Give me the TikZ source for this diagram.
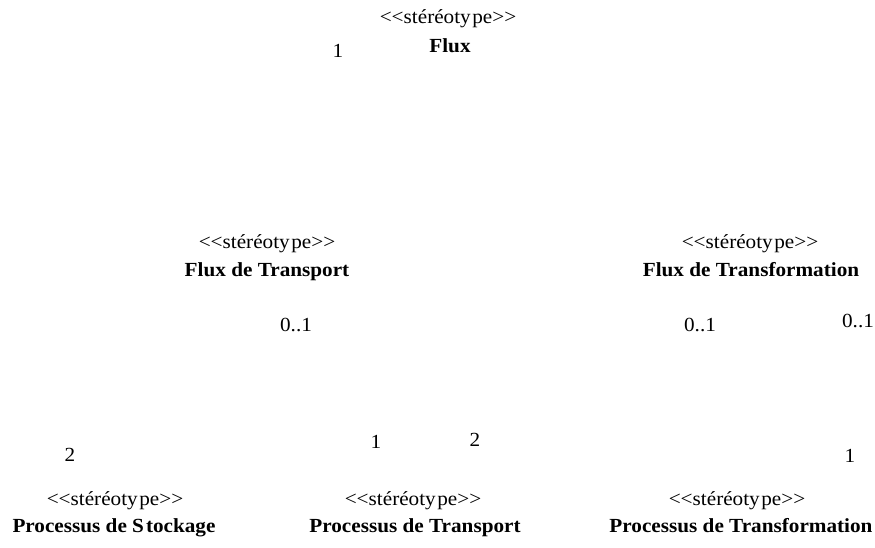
\documentclass[tikz,border=0pt]{standalone}
\usepackage{fontspec}
\setmainfont[FakeStretch=1.06]{Liberation Serif}
\begin{document}
\begin{tikzpicture}[x=1pt,y=-1pt,
  lbl/.style={inner sep=0pt,anchor=base,font=\fontsize{20}{24}\selectfont},
  clsname/.style={inner sep=0pt,anchor=base,font=\fontsize{20}{24}\selectfont\bfseries},
  mult/.style={inner sep=0pt,anchor=base,font=\fontsize{20}{24}\selectfont}]
\useasboundingbox (0,0) rectangle (875,547);
\newcommand{\stereo}{<\kern0pt<st\'er\'eoty\kern1.5pt pe>\kern0pt>}
% Flux
\node[lbl]  (s0) at (448,23) {\stereo};
\node[clsname] (n0) at (450,52) {Flux};
\node[mult] (m0) at (338,57) {1};
% Flux de Transport
\node[lbl]  (s1) at (267,248) {\stereo};
\node[clsname] (n1) at (267,276) {Flux de Transport};
\node[mult] (m1) at (296,331) {0..1};
% Flux de Transformation
\node[lbl]  (s2) at (750,248) {\stereo};
\node[clsname] (n2) at (751,276) {Flux de Transformation};
\node[mult] (m2) at (700,331) {0..1};
\node[mult] (m3) at (858,327) {0..1};
% bottom multiplicities
\node[mult] (m4) at (70,461) {2};
\node[mult] (m5) at (376,448) {1};
\node[mult] (m6) at (475,446) {2};
\node[mult] (m7) at (850,462) {1};
% Processus
\node[lbl]  (s3) at (115,505) {\stereo};
\node[clsname] (n3) at (114,532) {Processus de S\kern2pt tockage};
\node[lbl]  (s4) at (413,505) {\stereo};
\node[clsname] (n4) at (415,532) {Processus de Transport};
\node[lbl]  (s5) at (737,505) {\stereo};
\node[clsname] (n5) at (741,532) {Processus de Transformation};
\end{tikzpicture}
\end{document}
